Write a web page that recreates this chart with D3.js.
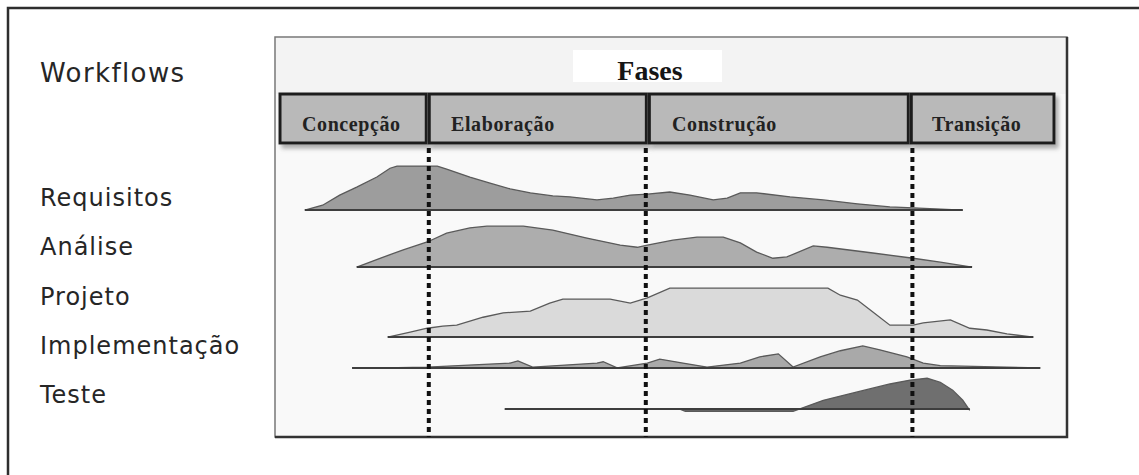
<!DOCTYPE html>
<html><head><meta charset="utf-8">
<script src="https://cdn.jsdelivr.net/npm/d3@7"></script>
<style>html,body{margin:0;padding:0;background:#fff;}svg{display:block;}</style>
</head><body>
<svg id="c" width="1139" height="475"></svg>
<script>
// ---- data ----
const workflows = ["Requisitos", "Análise", "Projeto", "Implementação", "Teste"];
const phases = ["Concepção", "Elaboração", "Construção", "Transição"];
const phaseBounds = [0, 19.0, 47.4, 81.2, 100];      // % of timeline
const milestones = [19.2, 47.2, 81.6];               // dashed lines
const rowBase = [77.2, 57.8, 34.0, 23.5, 9.5];       // baseline level of each workflow row
const reqT = [3.2,5.5,7.7,9.9,12.5,14.2,15.1,20.3,21.5,24.5,27.1,29.7,32.3,35.2,37.4,40.9,43.0,45.2,47.4,50.3,52.9,55.9,57.7,59.4,61.5,65.8,70.1,74.5,78.7,81.7,88.1];
const reqE = [0,1.1,3.4,5.2,7.5,9.5,10,10,9.3,7.5,6.1,4.8,3.9,3.2,3.0,2.3,2.7,3.4,3.6,4.1,3.4,2.3,2.7,3.9,3.9,3.0,2.3,1.4,0.7,0.5,0];
const anaT = [9.9,12.9,15.9,19.0,21.5,24.5,26.7,31.4,35.2,39.6,43.9,46.1,47.4,50.7,53.8,57.2,59.4,61.5,63.6,65.4,68.8,70.6,76.5,81.7,85.2,89.3];
const anaE = [0,2.0,3.9,5.7,7.7,8.9,9.3,9.3,8.4,6.6,5.0,4.5,5.0,6.1,6.8,6.8,5.5,3.4,2.0,2.3,4.8,4.5,3.2,2.0,1.1,0];
const proT = [13.9,16.8,19.0,21.0,22.8,26.2,28.8,32.3,34.8,36.5,42.6,45.2,47.4,50.3,70.7,72.3,74.5,76.5,78.7,81.7,83.0,86.5,89.0,91.2,93.8,97.2];
const proE = [0,1.1,2.0,2.5,2.7,4.5,5.5,5.9,7.7,8.6,8.6,7.7,8.9,11.1,11.1,9.5,8.4,5.7,2.7,2.7,3.2,3.9,2.0,1.6,0.7,0];
const impT = [9.3,13.3,19.0,29.7,30.7,32.6,40.9,41.7,43.5,47.4,49.0,52.0,55.1,59.4,61.9,64.3,66.2,69.7,72.3,75.2,77.4,80.9,83.0,85.2,98.1];
const impE = [0,0,0.2,1.1,1.6,0.2,1.1,1.4,0,1.1,2.0,1.1,0.2,1.1,2.5,3.2,0.2,2.5,3.9,5.0,4.1,2.5,1.1,0.5,0];
const tesT = [29.0,51.6,52.3,66.2,70.1,74.5,78.7,81.3,83.5,85.2,86.8,88.1,89.0];
const tesE = [0,0,-0.5,-0.5,2.0,3.9,5.7,6.6,7.0,6.1,4.3,2.0,-0.3];
const seriesT = [reqT, anaT, proT, impT, tesT];
const seriesE = [reqE, anaE, proE, impE, tesE];
const fills = ["#9d9d9d", "#adadad", "#dadada", "#a9a9a9", "#6f6f6f"];

// ---- scales ----
const svg = d3.select("#c");
const x = d3.scaleLinear().domain([0, 100]).range([280, 1055]);
const y = d3.scaleLinear().domain([0, 100]).range([437, 143]);
const effort = d3.scaleLinear().domain([0, 10]).range([0, 44]);
const labelY = d3.scalePoint().domain(workflows).range([206, 403]);

// outer frame
svg.append("path").attr("d", "M8,475V8H1139").attr("fill", "none").attr("stroke", "#2e2e2e").attr("stroke-width", 2.5);

const defs = svg.append("defs");
const f = defs.append("filter").attr("id", "sh").attr("x", "-5%").attr("y", "-20%").attr("width", "115%").attr("height", "160%");
f.append("feDropShadow").attr("dx", 3).attr("dy", 4).attr("stdDeviation", 2).attr("flood-color", "#888").attr("flood-opacity", 0.7);

// inner panel
svg.append("rect").attr("x", 275).attr("y", 37).attr("width", 792).attr("height", 400)
  .attr("fill", "#f9f9f9").attr("stroke", "#777").attr("stroke-width", 1.5);
svg.append("rect").attr("x", 276).attr("y", 38).attr("width", 790).attr("height", 56).attr("fill", "#f3f3f3");
svg.append("path").attr("d", "M275,437H1067V37").attr("fill", "none").attr("stroke", "#333").attr("stroke-width", 2.5);

// Fases title
svg.append("rect").attr("x", 573).attr("y", 50).attr("width", 149).attr("height", 32).attr("fill", "#fff");
svg.append("text").attr("x", 650).attr("y", 80).attr("text-anchor", "middle")
  .attr("font-family", "'Liberation Serif', 'Times New Roman', serif").attr("font-weight", "bold")
  .attr("font-size", 28).attr("fill", "#151515").text("Fases");

// phase boxes
const pg = svg.append("g");
phases.forEach((p, i) => {
  const x0 = x(phaseBounds[i]) + (i === 0 ? 0 : 2), x1 = x(phaseBounds[i + 1]) - 1;
  pg.append("rect").attr("x", x0).attr("y", 94).attr("width", x1 - x0).attr("height", 49)
    .attr("fill", "#b9b9b9").attr("stroke", "#1e1e1e").attr("stroke-width", 3).attr("filter", "url(#sh)");
});
const labelX = [302, 451, 672, 932];
phases.forEach((p, i) => {
  pg.append("text").attr("x", labelX[i]).attr("y", 131)
    .attr("font-family", "'Liberation Serif', 'Times New Roman', serif").attr("font-weight", "bold")
    .attr("font-size", 20).attr("letter-spacing", 0.6).attr("fill", "#222").text(p);
});

// workflow areas
const ag = svg.append("g");
workflows.forEach((w, i) => {
  const pts = seriesT[i].map((t, k) => ({ t, e: seriesE[i][k] }));
  const base = y(rowBase[i]);
  const area = d3.area().x(d => x(d.t)).y0(base).y1(d => base - effort(d.e));
  const line = d3.line().x(d => x(d.t)).y(d => base - effort(d.e));
  ag.append("path").attr("d", area(pts)).attr("fill", fills[i]);
  ag.append("path").attr("d", line(pts)).attr("fill", "none").attr("stroke", "#5a5a5a").attr("stroke-width", 1.3);
  const ext = d3.extent(seriesT[i]);
  ag.append("line").attr("x1", x(ext[0])).attr("x2", x(ext[1])).attr("y1", base).attr("y2", base)
    .attr("stroke", "#3e3e3e").attr("stroke-width", 2);
});

// milestone dashed lines
milestones.forEach(m => {
  svg.append("line").attr("x1", x(m)).attr("x2", x(m)).attr("y1", 148).attr("y2", 437)
    .attr("stroke", "#111").attr("stroke-width", 4).attr("stroke-dasharray", "5,4");
});

// left labels
const lg = svg.append("g").attr("font-family", "'DejaVu Sans', sans-serif").attr("fill", "#262626");
lg.append("text").attr("x", 40).attr("y", 82).attr("font-size", 26).attr("letter-spacing", 1.4).text("Workflows");
workflows.forEach(w => {
  lg.append("text").attr("x", 40).attr("y", labelY(w)).attr("font-size", 24).attr("letter-spacing", 1).text(w);
});
</script>
</body></html>
